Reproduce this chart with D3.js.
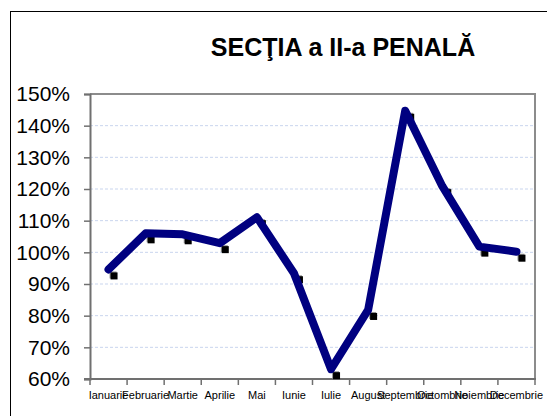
<!DOCTYPE html>
<html>
<head>
<meta charset="utf-8">
<script src="https://cdn.jsdelivr.net/npm/d3@7"></script>
<style>
  body { margin: 0; background: #fff; }
  svg { display: block; font-family: "Liberation Sans", Arial, sans-serif; }
</style>
</head>
<body>
<svg id="chart" width="547" height="416"></svg>
<script>
// data
var months = ["Ianuarie", "Februarie", "Martie", "Aprilie", "Mai", "Iunie",
              "Iulie", "August", "Septembrie", "Octombrie", "Noiembrie", "Decembrie"];
var values = [0.946, 1.06, 1.057, 1.029, 1.111, 0.934, 0.631, 0.818, 1.447, 1.209, 1.018, 1.002];
var yTicks = [0.6, 0.7, 0.8, 0.9, 1.0, 1.1, 1.2, 1.3, 1.4, 1.5];
var titleText = "SECŢIA a II-a PENALĂ";

var svg = d3.select("#chart");
var plot = {left: 90, right: 535, top: 94, bottom: 379};

// outer chart frame
svg.append("rect")
  .attr("x", 10.5).attr("y", 11.5)
  .attr("width", 600).attr("height", 500)
  .attr("fill", "none").attr("stroke", "#000").attr("stroke-width", 1);

svg.append("text")
  .attr("x", 343).attr("y", 56)
  .attr("text-anchor", "middle")
  .attr("font-size", 25).attr("font-weight", "bold")
  .text(titleText);

var x = d3.scaleBand().domain(months).range([plot.left, plot.right]).padding(0);
var y = d3.scaleLinear().domain([0.6, 1.5]).range([plot.bottom, plot.top]);

// gridlines
svg.append("g").selectAll("line")
  .data(yTicks.slice(1, -1))
  .join("line")
  .attr("x1", plot.left).attr("x2", plot.right)
  .attr("y1", d => y(d)).attr("y2", d => y(d))
  .attr("stroke", "#c9d5ee").attr("stroke-width", 1)
  .attr("stroke-dasharray", "3,2");

// plot frame (top and right)
svg.append("path")
  .attr("d", "M" + plot.left + "," + plot.top + "H" + plot.right + "V" + plot.bottom)
  .attr("fill", "none").attr("stroke", "#8c8c8c").attr("stroke-width", 2);

// y axis
var yAxis = svg.append("g")
  .attr("transform", "translate(" + plot.left + ",0)")
  .call(d3.axisLeft(y).tickValues(yTicks).tickFormat(d3.format(".0%")).tickSize(6).tickPadding(14));
yAxis.select(".domain").attr("stroke", "#707070").attr("stroke-width", 2);
yAxis.selectAll(".tick line").attr("stroke", "#707070").attr("stroke-width", 1.5);
yAxis.selectAll("text").attr("font-size", 21).attr("fill", "#000")
  .attr("font-family", "Liberation Sans, Arial, sans-serif");

// x axis: labels at band centres, ticks at band edges
var xAxis = svg.append("g")
  .attr("transform", "translate(0," + plot.bottom + ")")
  .call(d3.axisBottom(x).tickSize(0).tickPadding(12));
xAxis.select(".domain").remove();
xAxis.selectAll("text").attr("font-size", 11).attr("fill", "#000")
  .attr("font-family", "Liberation Sans, Arial, sans-serif");

var edges = months.map(m => x(m)).concat([plot.right]);
svg.append("g").selectAll("line")
  .data(edges)
  .join("line")
  .attr("x1", d => d).attr("x2", d => d)
  .attr("y1", plot.bottom).attr("y2", plot.bottom + 6)
  .attr("stroke", "#707070").attr("stroke-width", 1.5);
svg.append("line")
  .attr("x1", plot.left - 6).attr("x2", plot.right + 1)
  .attr("y1", plot.bottom).attr("y2", plot.bottom)
  .attr("stroke", "#707070").attr("stroke-width", 2);

// markers (shadowed black squares, offset as in the original)
var markers = svg.append("g");
markers.selectAll("rect.shadow")
  .data(values)
  .join("rect")
  .attr("class", "shadow")
  .attr("x", (d, i) => x(months[i]) + x.bandwidth() / 2 + 1)
  .attr("y", d => y(d) + 2)
  .attr("width", 7).attr("height", 7)
  .attr("fill", "#9a9a9a");
markers.selectAll("rect.mark")
  .data(values)
  .join("rect")
  .attr("class", "mark")
  .attr("x", (d, i) => x(months[i]) + x.bandwidth() / 2 + 2)
  .attr("y", d => y(d) + 3)
  .attr("width", 7).attr("height", 7)
  .attr("fill", "#000");

// the line
var line = d3.line()
  .x((d, i) => x(months[i]) + x.bandwidth() / 2)
  .y(d => y(d));
svg.append("path")
  .datum(values)
  .attr("d", line)
  .attr("fill", "none")
  .attr("stroke", "#000080")
  .attr("stroke-width", 8)
  .attr("stroke-linejoin", "round")
  .attr("stroke-linecap", "round");
</script>
</body>
</html>
